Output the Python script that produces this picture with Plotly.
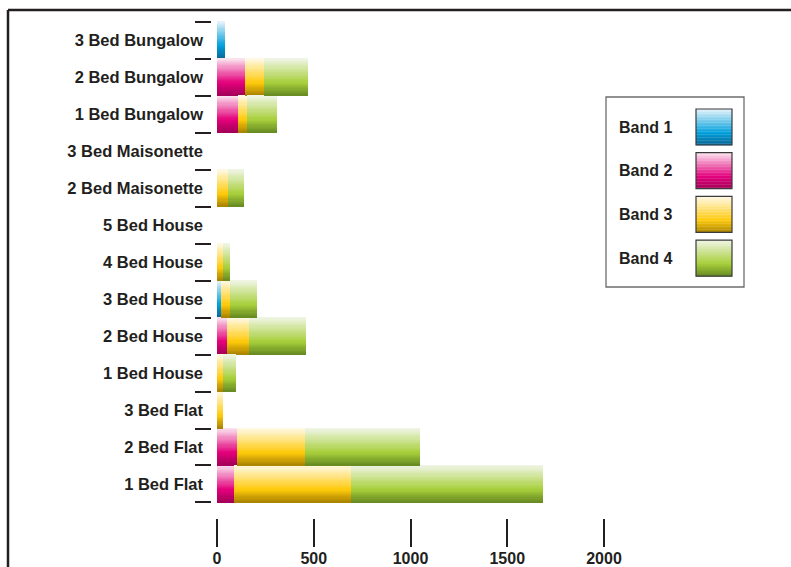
import plotly.graph_objects as go

# Property types, listed bottom to top
categories = [
    "1 Bed Flat", "2 Bed Flat", "3 Bed Flat",
    "1 Bed House", "2 Bed House", "3 Bed House", "4 Bed House", "5 Bed House",
    "2 Bed Maisonette", "3 Bed Maisonette",
    "1 Bed Bungalow", "2 Bed Bungalow", "3 Bed Bungalow",
]

band_names = ["Band 1", "Band 2", "Band 3", "Band 4"]

band1 = [0, 0, 0, 0, 0, 21, 0, 0, 0, 0, 0, 0, 41]
band2 = [88, 103, 0, 0, 52, 0, 0, 0, 0, 0, 108, 145, 0]
band3 = [605, 352, 31, 31, 113, 46, 31, 0, 57, 0, 47, 98, 0]
band4 = [992, 594, 0, 67, 295, 140, 36, 0, 83, 0, 155, 227, 0]

x_tick_vals = [0, 500, 1000, 1500, 2000]

# light top -> saturated -> dark bottom
band_gradients = [
    ("#e8f4fb", "#00a0dc", "#0b6795"),
    ("#fce6f1", "#e3007b", "#a30058"),
    ("#fffae8", "#ffca0c", "#a98300"),
    ("#f1f6e8", "#a7cf3b", "#678a22"),
]

INK = "#231f20"
FONT = "Liberation Sans, Arial"
W, H = 791, 567
ML, MR, MT, MB = 212, 11, 21, 49
N_SLICES = 32


def hex_rgb(h):
    h = h.lstrip("#")
    return tuple(int(h[i:i + 2], 16) for i in (0, 2, 4))


def mix(a, b, f):
    ra, rb = hex_rgb(a), hex_rgb(b)
    return "rgb(%d,%d,%d)" % tuple(round(ra[i] + (rb[i] - ra[i]) * f) for i in range(3))


def grad_color(stops, t):
    top, mid, bot = stops
    knee = 0.66
    if t <= knee:
        return mix(top, mid, t / knee)
    return mix(mid, bot, (t - knee) / (1 - knee))


fig = go.Figure()

series = [band1, band2, band3, band4]
bases = [0] * len(categories)
for name, vals, stops in zip(band_names, series, band_gradients):
    base_now = list(bases)
    # each band is drawn as a stack of thin horizontal slices to shade it top-to-bottom
    for k in range(N_SLICES):
        t = (k + 0.5) / N_SLICES
        fig.add_trace(go.Bar(
            y=categories,
            x=vals,
            base=base_now,
            orientation="h",
            width=1.0 / N_SLICES + 0.003,
            offset=0.5 - (k + 1) / N_SLICES,
            marker=dict(color=grad_color(stops, t), line=dict(width=0)),
            name=name,
            legendgroup=name,
            showlegend=False,
            hoverinfo="x+y+name",
        ))
    bases = [b + v for b, v in zip(bases, vals)]

plot_w = W - ML - MR
plot_h = H - MT - MB


def px_x(px):
    return (px - ML) / plot_w


def px_y(py):
    return 1 - (py - MT) / plot_h


shapes = []
# outer frame (top and left edges)
shapes.append(dict(type="line", xref="paper", yref="paper",
                   x0=px_x(8), x1=px_x(800), y0=px_y(10), y1=px_y(10),
                   line=dict(color=INK, width=2.5)))
shapes.append(dict(type="line", xref="paper", yref="paper",
                   x0=px_x(8), x1=px_x(8), y0=px_y(10), y1=px_y(580),
                   line=dict(color=INK, width=2.5)))

# legend box with text on the left and shaded swatches on the right
shapes.append(dict(type="rect", xref="paper", yref="paper",
                   x0=px_x(606), x1=px_x(744), y0=px_y(97), y1=px_y(287),
                   line=dict(color="#6d6d6d", width=1.3), fillcolor="white"))
annotations = []
for i, (name, stops) in enumerate(zip(band_names, band_gradients)):
    cy = 127 + 43.7 * i
    annotations.append(dict(
        xref="paper", yref="paper", x=px_x(617), y=px_y(cy),
        xanchor="left", yanchor="middle", showarrow=False, text=name,
        font=dict(family=FONT, size=16, color=INK, weight="bold"),
    ))
    top, bot = cy - 18, cy + 18
    n = 24
    for k in range(n):
        y0 = top + (bot - top) * k / n
        y1 = top + (bot - top) * (k + 1) / n + 0.3
        shapes.append(dict(type="rect", xref="paper", yref="paper",
                           x0=px_x(696), x1=px_x(732), y0=px_y(y0), y1=px_y(y1),
                           line=dict(width=0), fillcolor=grad_color(stops, (k + 0.5) / n)))
    shapes.append(dict(type="rect", xref="paper", yref="paper",
                       x0=px_x(696), x1=px_x(732), y0=px_y(top), y1=px_y(bot),
                       line=dict(color="#3a3a3a", width=1.2)))

px_per_unit = (604 - 217) / 2000.0
x_lo = -(217 - ML) / px_per_unit
x_hi = (W - MR - 217) / px_per_unit

fig.update_layout(
    width=W, height=H,
    margin=dict(l=ML, r=MR, t=MT, b=MB, pad=0, autoexpand=False),
    paper_bgcolor="white", plot_bgcolor="white",
    barmode="overlay", bargap=0,
    showlegend=False,
    shapes=shapes,
    annotations=annotations,
    xaxis=dict(
        range=[x_lo, x_hi],
        tickvals=x_tick_vals,
        ticktext=[str(v) for v in x_tick_vals],
        ticks="outside", ticklen=28, tickwidth=1.5, tickcolor=INK,
        ticklabelstandoff=-2,
        showgrid=False, zeroline=False, showline=False,
        automargin=False,
        tickfont=dict(family=FONT, size=16, color=INK, weight="bold"),
        fixedrange=True,
    ),
    yaxis=dict(
        type="category",
        categoryorder="array", categoryarray=categories,
        range=[-0.92, 12.52],
        tickson="boundaries",
        ticks="outside", ticklen=16, tickwidth=1.5, tickcolor=INK,
        ticklabelstandoff=8,
        showgrid=False, zeroline=False, showline=False,
        automargin=False,
        tickfont=dict(family=FONT, size=16.5, color=INK, weight="bold"),
        fixedrange=True,
    ),
)

fig.write_html("out.html")
